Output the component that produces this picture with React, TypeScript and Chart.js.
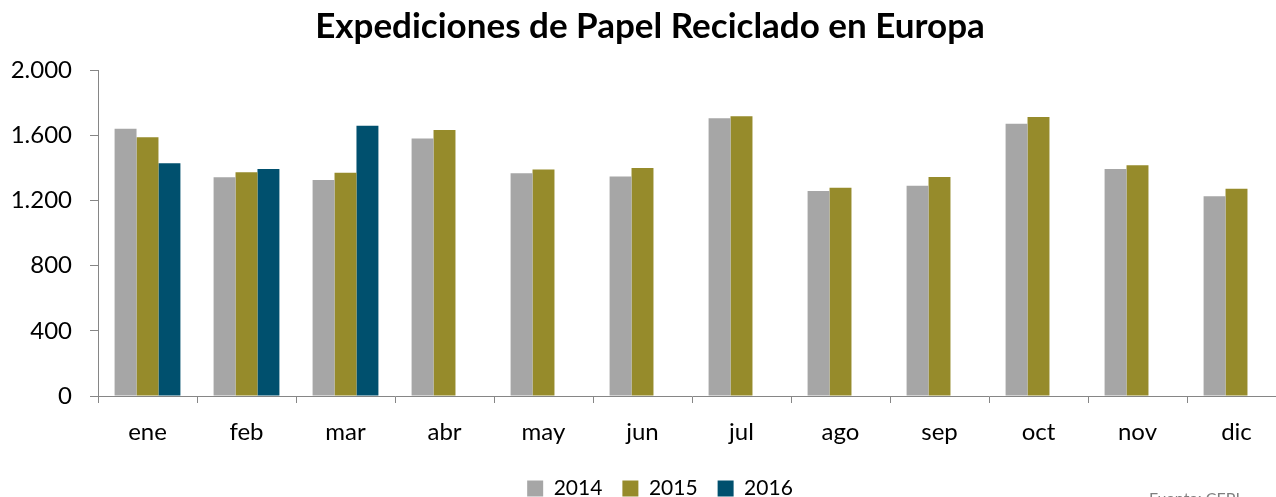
import React, { useEffect, useRef } from "react";
import { Chart, registerables } from "chart.js";

Chart.register(...registerables);

const months = ["ene", "feb", "mar", "abr", "may", "jun", "jul", "ago", "sep", "oct", "nov", "dic"];
const s2014 = [1640, 1342, 1325, 1579, 1366, 1346, 1704, 1258, 1290, 1671, 1393, 1225];
const s2015 = [1587, 1372, 1370, 1632, 1389, 1399, 1716, 1278, 1344, 1712, 1415, 1272];
const s2016 = [1428, 1393, 1658, null, null, null, null, null, null, null, null, null];
const yTicks = [0, 400, 800, 1200, 1600, 2000];
const titleText = "Expediciones de Papel Reciclado en Europa";
const sourceText = "Fuente: CEPI";

const FONT = "Lato, 'Open Sans', sans-serif";

const fmt = (v: number) => String(v).replace(/\B(?=(\d{3})+(?!\d))/g, ".");

const sourcePlugin = {
  id: "sourceNote",
  afterLayout(chart: any) {
    if (chart.legend) {
      chart.legend.left += 17;
      chart.legend.right += 17;
    }
    if (chart.titleBlock) {
      chart.titleBlock.left += 7;
      chart.titleBlock.right += 7;
    }
  },
  afterDraw(chart: any) {
    const ctx = chart.ctx;
    ctx.save();
    ctx.font = `16px ${FONT}`;
    ctx.fillStyle = "#7F7F7F";
    ctx.textBaseline = "top";
    ctx.textAlign = "left";
    ctx.fillText(sourceText, 1149, 491);
    ctx.restore();
  },
};

export default function App() {
  const ref = useRef<HTMLCanvasElement | null>(null);
  useEffect(() => {
    if (!ref.current) return;
    const chart = new Chart(ref.current, {
      type: "bar",
      data: {
        labels: months,
        datasets: [
          { label: "2014", data: s2014, backgroundColor: "#A6A6A6" },
          { label: "2015", data: s2015, backgroundColor: "#968B2B" },
          { label: "2016", data: s2016 as any, backgroundColor: "#00506E" },
        ],
      },
      options: {
        animation: false,
        responsive: false,
        maintainAspectRatio: false,
        layout: { padding: { left: 0, right: 14, top: 0, bottom: 1 } },
        datasets: { bar: { categoryPercentage: 0.665, barPercentage: 1 } },
        plugins: {
          title: {
            display: true,
            text: titleText,
            color: "#000",
            font: { family: FONT, size: 35, weight: "bold" },
            padding: { top: 6, bottom: 22 },
          },
          legend: {
            position: "bottom",
            labels: {
              color: "#000",
              font: { family: FONT, size: 21 },
              boxWidth: 16,
              boxHeight: 16,
              padding: 20,
            },
          },
          tooltip: { enabled: false },
        },
        scales: {
          x: {
            grid: {
              display: true,
              drawOnChartArea: false,
              drawTicks: true,
              tickLength: 7,
              color: "#868686",
              offset: true,
            },
            border: { color: "#868686", width: 1 },
            ticks: { color: "#000", font: { family: FONT, size: 24 }, padding: 15 },
            afterFit: (s: any) => {
              s.height = 62;
            },
          },
          y: {
            min: 0,
            max: 2000,
            afterBuildTicks: (s: any) => {
              s.ticks = yTicks.map((v) => ({ value: v }));
            },
            grid: {
              display: true,
              drawOnChartArea: false,
              drawTicks: true,
              tickLength: 8,
              color: "#868686",
            },
            border: { color: "#868686", width: 1 },
            ticks: {
              color: "#000",
              font: { family: FONT, size: 24 },
              padding: 18,
              callback: (v: any) => fmt(Number(v)),
            },
            afterFit: (s: any) => {
              s.width = 98;
            },
          },
        },
      },
      plugins: [sourcePlugin],
    });
    return () => chart.destroy();
  }, []);
  return (
    <div
      style={{
        position: "absolute",
        left: 0,
        top: 0,
        width: 1276,
        height: 497,
        overflow: "hidden",
        background: "#fff",
      }}
    >
      <canvas ref={ref} width={1300} height={510} style={{ display: "block" }} />
    </div>
  );
}
